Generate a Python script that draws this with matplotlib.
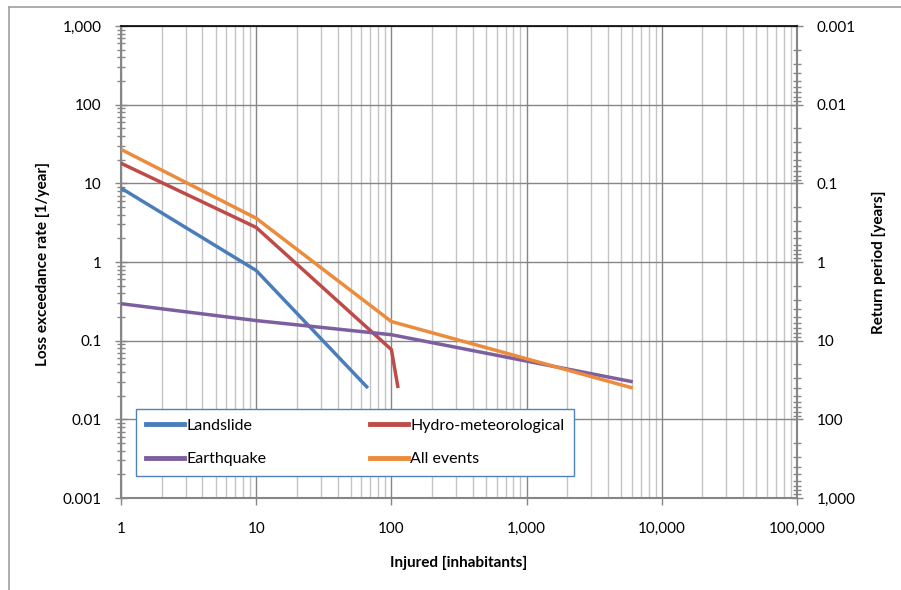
import numpy as np
import matplotlib.pyplot as plt
from matplotlib.ticker import LogLocator, FuncFormatter, NullFormatter
from matplotlib.lines import Line2D

plt.rcParams['font.family'] = ['Lato', 'DejaVu Sans']

# Loss exceedance curves (injured vs. annual exceedance rate)
landslide_x = [1, 10, 67]
landslide_y = [8.7, 0.78, 0.025]

hydro_x = [1, 10, 100, 112]
hydro_y = [18.0, 2.75, 0.077, 0.025]

quake_x = [1, 10, 100, 6100]
quake_y = [0.295, 0.18, 0.119, 0.030]

all_x = [1, 10, 100, 6100]
all_y = [27.0, 3.6, 0.175, 0.025]

names = ['Landslide', 'Hydro-meteorological', 'Earthquake', 'All events']
colors = ['#4A7EBB', '#BE4B48', '#7D5FA0', '#EC8B3B']

axis_gray = '#868686'
minor_gray = '#C4C4C4'
fs = 11


def fmt(v, pos=None):
    if v >= 1:
        return '{:,.0f}'.format(v)
    return '{:g}'.format(v)


fig = plt.figure(figsize=(9.01, 5.90), dpi=100)
ax = fig.add_axes([121 / 901, 1 - 498 / 590, 676 / 901, 472 / 590])

series = [(landslide_x, landslide_y), (hydro_x, hydro_y),
          (quake_x, quake_y), (all_x, all_y)]
for (xs, ys), c in zip(series, colors):
    ax.plot(xs, ys, color=c, lw=2.5, solid_capstyle='butt', zorder=3)

ax.set_xscale('log')
ax.set_yscale('log')
ax.set_xlim(1, 100000)
ax.set_ylim(0.001, 1000)

ax.xaxis.set_major_locator(LogLocator(base=10, numticks=10))
ax.xaxis.set_minor_locator(LogLocator(base=10, subs=np.arange(2, 10), numticks=20))
ax.yaxis.set_major_locator(LogLocator(base=10, numticks=10))
ax.yaxis.set_minor_locator(LogLocator(base=10, subs=np.arange(2, 10), numticks=20))
ax.xaxis.set_major_formatter(FuncFormatter(fmt))
ax.yaxis.set_major_formatter(FuncFormatter(fmt))
ax.xaxis.set_minor_formatter(NullFormatter())
ax.yaxis.set_minor_formatter(NullFormatter())

ax.grid(which='major', axis='both', color=axis_gray, lw=1.0, zorder=1)
ax.grid(which='minor', axis='x', color=minor_gray, lw=1.0, zorder=1)
ax.set_axisbelow(True)

for s in ['left', 'bottom', 'right']:
    ax.spines[s].set_color(axis_gray)
    ax.spines[s].set_linewidth(1.5)
ax.spines['top'].set_color('black')
ax.spines['top'].set_linewidth(1.2)

ax.tick_params(axis='x', which='major', direction='out', length=5, width=1,
               color=axis_gray, labelsize=fs, pad=12)
ax.tick_params(axis='x', which='minor', length=0)
ax.tick_params(axis='y', which='major', direction='inout', length=8, width=1,
               color=axis_gray, labelsize=fs, pad=10)
ax.tick_params(axis='y', which='minor', direction='inout', length=6, width=1,
               color=axis_gray)

# Return period on the right (reciprocal of the rate)
ax2 = ax.secondary_yaxis('right', functions=(lambda y: 1 / y, lambda y: 1 / y))
ax2.yaxis.set_major_locator(LogLocator(base=10, numticks=10))
ax2.yaxis.set_minor_locator(LogLocator(base=10, subs=np.arange(2, 10), numticks=20))
ax2.yaxis.set_major_formatter(FuncFormatter(fmt))
ax2.yaxis.set_minor_formatter(NullFormatter())
ax2.spines['right'].set_color(axis_gray)
ax2.spines['right'].set_linewidth(1.5)
ax2.tick_params(axis='y', which='major', direction='inout', length=8, width=1,
                color=axis_gray, labelsize=fs, pad=10)
ax2.tick_params(axis='y', which='minor', direction='inout', length=6, width=1,
                color=axis_gray)

# axis titles
fig.text(459 / 901, 1 - 563 / 590, 'Injured [inhabitants]', fontsize=fs,
         fontweight='bold', ha='center', va='center')
fig.text(43 / 901, 1 - 264 / 590, 'Loss exceedance rate [1/year]', fontsize=fs,
         fontweight='bold', ha='center', va='center', rotation=90)
fig.text(879 / 901, 1 - 262 / 590, 'Return period [years]', fontsize=fs,
         fontweight='bold', ha='center', va='center', rotation=90)

# legend filled column by column
order = [0, 2, 1, 3]
handles = [Line2D([], [], color=colors[i], lw=3.5) for i in order]
labels = [names[i] for i in order]
leg = ax.legend(handles, labels, ncol=2, loc='lower left',
                bbox_to_anchor=(15 / 676, 22 / 472, 438 / 676, 70 / 472),
                mode='expand', borderaxespad=0, fancybox=False, framealpha=1,
                fontsize=11.5, handlelength=2.4, handletextpad=0.15,
                columnspacing=1.0, labelspacing=1.2, borderpad=0.6)
leg.get_frame().set_edgecolor('#4F81BD')
leg.get_frame().set_linewidth(1.0)
leg.set_zorder(5)

# chart area frame
fig.add_artist(Line2D([9 / 901, 9 / 901], [0, 1 - 7 / 590], color='#A0A0A0', lw=1.2))
fig.add_artist(Line2D([9 / 901, 1], [1 - 7 / 590, 1 - 7 / 590], color='#A0A0A0', lw=1.2))

fig.savefig('out.png', dpi=100)
